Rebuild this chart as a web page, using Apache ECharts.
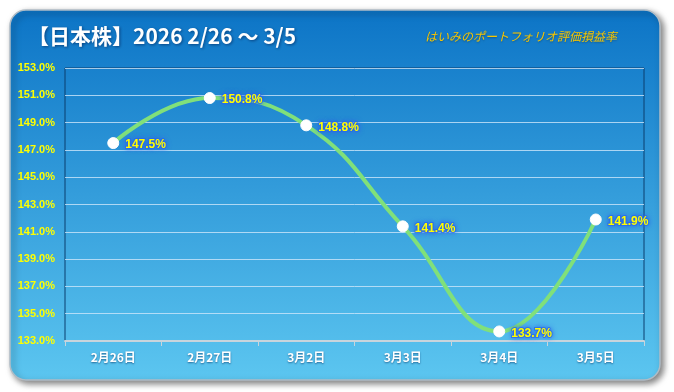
<!DOCTYPE html>
<html><head><meta charset="utf-8">
<script src="https://cdn.jsdelivr.net/npm/echarts@6/dist/echarts.min.js"></script>
<style>html,body{margin:0;padding:0;background:#fff;}#c{width:674px;height:392px;}</style>
</head><body><div id="c"></div>
<script>
const categories = ['2月26日','2月27日','3月2日','3月3日','3月4日','3月5日'];
const values = [147.5, 150.8, 148.8, 141.4, 133.7, 141.9];
const yMin = 133, yMax = 153, yStep = 2;
const titleText = '【日本株】2026 2/26 ～ 3/5';
const subtitleText = 'はいみのポートフォリオ評価損益率';

const chart = echarts.init(document.getElementById('c'));
const FONT = '"Noto Sans CJK JP","Noto Sans",sans-serif';
chart.setOption({
  animation: false,
  graphic: [
    {type:'rect', z:-10, shape:{x:10,y:10,width:650,height:370,r:16},
     style:{fill:new echarts.graphic.LinearGradient(0,0,0,1,[{offset:0,color:'#0c74c6'},{offset:1,color:'#5cc6f0'}]),
       stroke:'#b0bcc6', lineWidth:1.5, shadowBlur:6, shadowColor:'rgba(0,0,0,0.5)', shadowOffsetX:3, shadowOffsetY:3}},
    {type:'text', left:28, top:26, z:5,
     style:{text:titleText, fill:'#ffffff', font:'bold 21px '+FONT,
       textShadowColor:'rgba(0,30,80,0.6)', textShadowBlur:3, textShadowOffsetX:1, textShadowOffsetY:1}},
    {type:'text', left:425, top:30, z:5,
     style:{text:subtitleText, fill:'#f7c600', font:'italic 12px '+FONT,
       textShadowColor:'rgba(0,0,0,0.3)', textShadowBlur:2, textShadowOffsetY:1}}
  ],
  grid: {left:65, right:30, top:68, bottom:51, show:true, borderColor:'#0a3f6e', borderWidth:1, backgroundColor:'transparent'},
  xAxis: {
    type:'category', data:categories, boundaryGap:true,
    axisLine:{lineStyle:{color:'#c8d4dc', width:2}},
    axisTick:{show:true, alignWithLabel:false, length:5, lineStyle:{color:'#c8d4dc'}},
    axisLabel:{color:'#ffffff', fontWeight:'bold', fontSize:12, fontFamily:FONT, margin:10,
      textShadowColor:'rgba(0,40,90,0.6)', textShadowBlur:2, textShadowOffsetY:1}
  },
  yAxis: {
    type:'value', min:yMin, max:yMax, interval:yStep,
    axisLine:{show:false}, axisTick:{show:false},
    axisLabel:{color:'#ffff00', fontWeight:'bold', fontSize:11, fontFamily:'"Liberation Sans",sans-serif', margin:10,
      formatter: v => v.toFixed(1)+'%'},
    splitLine:{lineStyle:{color:'rgba(205,230,250,0.8)', width:1}}
  },
  series: [{
    type:'line', data:values, smooth:0.45,
    lineStyle:{color:'#80e07a', width:4},
    symbol:'circle', symbolSize:11,
    itemStyle:{color:'#ffffff', borderColor:'#ffffff'},
    label:{show:true, position:'right', distance:6, offset:[0,2], color:'#ffff00', fontWeight:'bold', fontSize:12,
      fontFamily:'"Liberation Sans",sans-serif',
      formatter: p => p.value.toFixed(1)+'%',
      textBorderColor:'rgba(40,100,235,0.7)', textBorderWidth:2,
      textShadowColor:'#2a66e8', textShadowBlur:5},
    z:3
  }]
});
</script></body></html>
